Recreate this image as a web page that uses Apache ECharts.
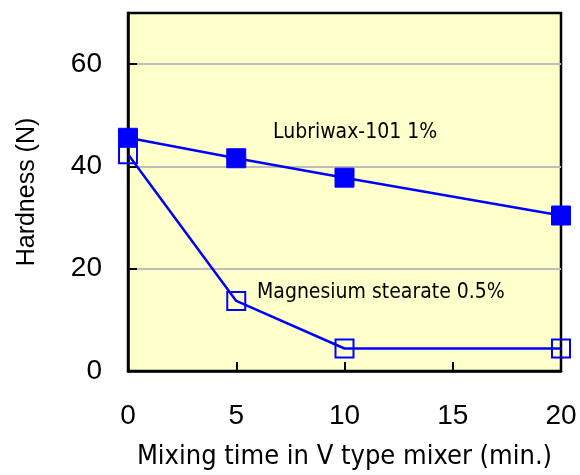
<!DOCTYPE html>
<html>
<head>
<meta charset="utf-8">
<script src="https://cdn.jsdelivr.net/npm/echarts@6/dist/echarts.min.js"></script>
<style>
html,body{margin:0;padding:0;background:#fff;}
#c{width:580px;height:475px;}
</style>
</head>
<body>
<div id="c"></div>
<script>
const mixingTime = [0, 5, 10, 20];
const lubriwax = [45.6, 41.6, 37.8, 30.4];
const magnesiumStearate = [42.4, 13.7, 4.4, 4.4];
const xTicks = [0, 5, 10, 15, 20];
const yTicks = [0, 20, 40, 60];

const chart = echarts.init(document.getElementById('c'));
chart.setOption({
  animation: false,
  backgroundColor: '#ffffff',
  grid: {
    left: 128, top: 13, right: 19, bottom: 102,
    show: true, backgroundColor: '#FFFFCC',
    borderColor: '#000000', borderWidth: 2.5
  },
  xAxis: {
    type: 'value', min: 0, max: 20, interval: 5,
    axisLine: { show: true, lineStyle: { color: '#000', width: 2.5 } },
    axisTick: { show: true, inside: true, length: 9, lineStyle: { color: '#000', width: 2 } },
    axisLabel: { margin: 31, color: '#000', fontFamily: 'Liberation Sans', fontSize: 28,
      formatter: v => xTicks.includes(v) ? String(v) : '' },
    splitLine: { show: false },
    name: 'Mixing time in V type mixer (min.)',
    nameLocation: 'middle', nameGap: 72,
    nameTextStyle: { color: '#000', fontFamily: '"DejaVu Sans Condensed", "DejaVu Sans"', fontSize: 27 }
  },
  yAxis: {
    type: 'value', min: 0, max: 70, interval: 20,
    axisLine: { show: true, lineStyle: { color: '#000', width: 2.5 } },
    axisTick: { show: true, inside: true, length: 9, lineStyle: { color: '#000', width: 2 } },
    axisLabel: { margin: 26, color: '#000', fontFamily: 'Liberation Sans', fontSize: 28,
      showMaxLabel: false,
      formatter: v => yTicks.includes(v) ? String(v) : '' },
    splitLine: { show: true, showMinLine: false, showMaxLine: false,
      lineStyle: { color: '#BDBDBD', width: 2 } },
    name: 'Hardness (N)',
    nameLocation: 'middle', nameGap: 88,
    nameTextStyle: { color: '#000', fontFamily: 'Liberation Sans', fontSize: 25 }
  },
  series: [
    {
      name: 'Magnesium stearate 0.5%',
      type: 'line',
      data: mixingTime.map((x, i) => [x, magnesiumStearate[i]]),
      symbol: 'rect', symbolSize: 18,
      itemStyle: { color: 'rgba(0,0,0,0)', borderColor: '#0000FF', borderWidth: 2 },
      lineStyle: { color: '#0000FF', width: 2.5 },
      z: 2
    },
    {
      name: 'Lubriwax-101 1%',
      type: 'line',
      data: mixingTime.map((x, i) => [x, lubriwax[i]]),
      symbol: 'rect', symbolSize: 19,
      itemStyle: { color: '#0000FF', borderColor: '#0000FF', borderWidth: 1 },
      lineStyle: { color: '#0000FF', width: 2.5 },
      z: 3
    }
  ],
  graphic: [
    { type: 'text', left: 273, top: 122, z: 10,
      style: { text: 'Lubriwax-101 1%', fill: '#000', font: '21px "DejaVu Sans Condensed", "DejaVu Sans"' } },
    { type: 'text', left: 257, top: 282, z: 10,
      style: { text: 'Magnesium stearate 0.5%', fill: '#000', font: '21px "DejaVu Sans Condensed", "DejaVu Sans"' } }
  ]
});
</script>
</body>
</html>
